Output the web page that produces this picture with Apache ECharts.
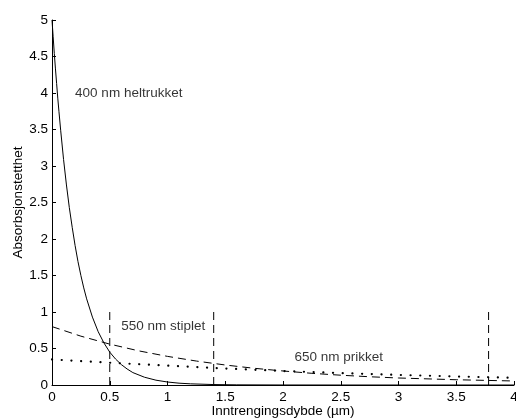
<!DOCTYPE html>
<html>
<head>
<meta charset="utf-8">
<script src="https://cdn.jsdelivr.net/npm/echarts@6/dist/echarts.min.js"></script>
<style>
  html, body { margin: 0; padding: 0; background: #fff; }
  #chart { width: 516px; height: 419px; }
</style>
</head>
<body>
<div id="chart"></div>
<script>
// Absorption density vs. penetration depth for three wavelengths
const depth400 = [0, 0.01, 0.02, 0.03, 0.04, 0.05, 0.06, 0.075, 0.1, 0.125, 0.15, 0.175, 0.2, 0.225, 0.25, 0.275, 0.3, 0.35, 0.4, 0.45, 0.5, 0.55, 0.6, 0.65, 0.7, 0.8, 0.9, 1.0, 1.1, 1.2, 1.4, 1.6, 2.0, 2.5, 3.0, 3.5, 4.0];
const abs400   = [5.0, 4.77, 4.54, 4.33, 4.13, 3.93, 3.75, 3.49, 3.09, 2.74, 2.43, 2.16, 1.91, 1.69, 1.50, 1.33, 1.18, 0.93, 0.73, 0.575, 0.45, 0.356, 0.28, 0.22, 0.17, 0.107, 0.066, 0.041, 0.025, 0.016, 0.006, 0.0023, 0.0003, 0, 0, 0, 0];

const depth550 = [0, 0.25, 0.5, 0.75, 1.0, 1.25, 1.5, 1.75, 2.0, 2.25, 2.5, 2.75, 3.0, 3.5, 4.0];
const abs550   = [0.80, 0.669, 0.56, 0.468, 0.392, 0.328, 0.274, 0.229, 0.192, 0.160, 0.134, 0.113, 0.096, 0.072, 0.055];

const depth650 = [0, 0.5, 1.0, 1.5, 2.0, 2.5, 3.0, 3.5, 4.0];
const abs650   = [0.35, 0.305, 0.265, 0.226, 0.192, 0.163, 0.138, 0.117, 0.098];

// Vertical dashed markers (penetration depths) and their height
const markerDepths = [0.5, 1.4, 3.78];
const markerHeight = 1;

// Curve captions: text, anchor x, anchor y
const captions = [
  ['400 nm heltrukket', 0.2, 4.0],
  ['550 nm stiplet', 0.6, 0.8],
  ['650 nm prikket', 2.1, 0.38]
];

const xTicks = { min: 0, max: 4, interval: 0.5 };
const yTicks = { min: 0, max: 5, interval: 0.5 };

const FONT = 'Liberation Sans, Arial, Helvetica, sans-serif';
const zip = (xs, ys) => xs.map((x, i) => [x, ys[i]]);

const markerSeries = markerDepths.map(d => ({
  type: 'line',
  data: [[d, 0], [d, markerHeight]],
  symbol: 'none',
  silent: true,
  lineStyle: { color: '#000', width: 1, type: [8, 5] }
}));

const chart = echarts.init(document.getElementById('chart'), null, { renderer: 'canvas' });
chart.setOption({
  animation: false,
  backgroundColor: '#fff',
  textStyle: { fontFamily: FONT },
  grid: { left: 52, right: 2, top: 20, bottom: 34, containLabel: false, outerBoundsMode: 'none' },
  xAxis: {
    type: 'value',
    min: xTicks.min, max: xTicks.max, interval: xTicks.interval,
    name: 'Inntrengingsdybde (µm)',
    nameLocation: 'middle',
    nameGap: 19,
    nameMoveOverlap: false,
    nameTextStyle: { color: '#000', fontSize: 13.5, fontFamily: FONT },
    axisLine: { lineStyle: { color: '#000', width: 1 } },
    axisTick: { inside: true, length: 4, lineStyle: { color: '#000' } },
    axisLabel: { color: '#000', fontSize: 13.5, margin: 5, fontFamily: FONT, hideOverlap: false },
    splitLine: { show: false }
  },
  yAxis: {
    type: 'value',
    min: yTicks.min, max: yTicks.max, interval: yTicks.interval,
    name: 'Absorbsjonstetthet',
    nameLocation: 'middle',
    nameGap: 27,
    nameMoveOverlap: false,
    nameRotate: 90,
    nameTextStyle: { color: '#000', fontSize: 13.5, fontFamily: FONT },
    axisLine: { lineStyle: { color: '#000', width: 1 } },
    axisTick: { inside: true, length: 4, lineStyle: { color: '#000' } },
    axisLabel: { color: '#000', fontSize: 13.5, margin: 4, fontFamily: FONT, hideOverlap: false },
    splitLine: { show: false }
  },
  series: [
    {
      type: 'line', name: '400 nm',
      data: zip(depth400, abs400),
      symbol: 'none', smooth: false,
      lineStyle: { color: '#000', width: 1, type: 'solid' }
    },
    {
      type: 'line', name: '550 nm',
      data: zip(depth550, abs550),
      symbol: 'none', smooth: false,
      lineStyle: { color: '#000', width: 1, type: [8, 5] }
    },
    {
      type: 'line', name: '650 nm',
      data: zip(depth650, abs650),
      symbol: 'none', smooth: false,
      lineStyle: { color: '#000', width: 2.2, type: [0.1, 9.6], cap: 'round' }
    },
    ...markerSeries,
    {
      type: 'scatter',
      data: captions.map(c => ({ value: [c[1], c[2]], name: c[0] })),
      symbolSize: 0,
      silent: true,
      label: {
        show: true, position: 'right', distance: 0,
        formatter: p => p.name,
        color: '#000', fontSize: 13.5, fontFamily: FONT
      }
    }
  ]
});
</script>
</body>
</html>
